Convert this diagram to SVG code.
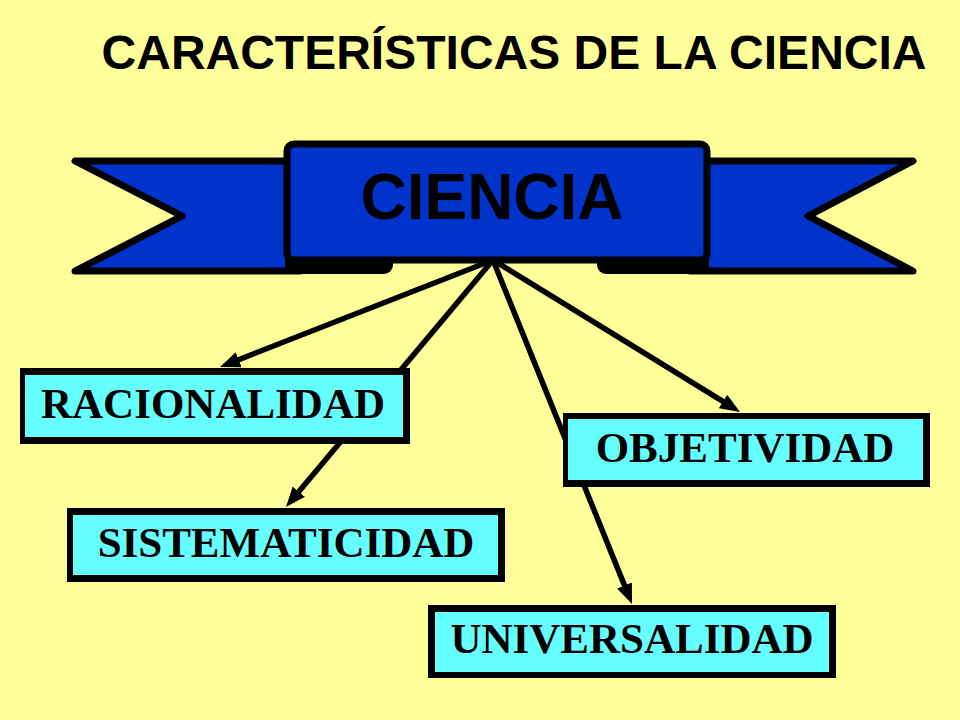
<svg xmlns="http://www.w3.org/2000/svg" width="960" height="720" viewBox="0 0 960 720">
<defs>
<style>
.title{font-family:"Liberation Sans",Arial,sans-serif;font-weight:bold;font-size:48px;fill:#000}
.ban{fill:#0033cc;stroke:#000;stroke-width:7;stroke-linejoin:round}
.bantext{font-family:"Liberation Sans",Arial,sans-serif;font-weight:bold;font-size:64px;fill:#000}
.outer{fill:#000}
.inner{fill:#66ffff}
.lbl{font-family:"Liberation Serif","Times New Roman",serif;font-weight:bold;font-size:43px;fill:#000}
.con{stroke:#000;stroke-width:5.5;fill:none;marker-end:url(#ah)}
</style>
<marker id="ah" markerUnits="userSpaceOnUse" markerWidth="20" markerHeight="16" refX="8" refY="8" orient="auto">
<path d="M0,0 L20,8 L0,16 Z" fill="#000"/>
</marker>
</defs>
<rect width="960" height="720" fill="#ffff99"/>
<text class="title" x="514" y="69" text-anchor="middle">CARACTERÍSTICAS DE LA CIENCIA</text>

<g id="connectors">
<line class="con" x1="493" y1="260" x2="231.2" y2="362.6"/>
<line class="con" x1="493" y1="260" x2="293.7" y2="497.8"/>
<line class="con" x1="493" y1="260" x2="729.8" y2="405.7"/>
<line class="con" x1="493" y1="260" x2="627.5" y2="592.9"/>
</g>

<g id="ciencia">
<polygon class="ban" points="75,161 300,161 300,271 75,271 182,216"/>
<polygon class="ban" points="913,161 690,161 690,271 913,271 808,216"/>
<rect x="285" y="249" width="108" height="25" rx="9" fill="#000"/>
<rect x="597" y="249" width="112" height="25" rx="9" fill="#000"/>
<rect class="ban" x="287" y="144" width="420" height="116" rx="7"/>
<text class="bantext" x="492" y="219" text-anchor="middle">CIENCIA</text>
</g>

<g id="racionalidad">
<rect class="outer" x="20" y="368" width="390" height="76"/>
<rect class="inner" x="25" y="375" width="378" height="62"/>
<text class="lbl" x="213" y="418" text-anchor="middle">RACIONALIDAD</text>
</g>

<g id="sistematicidad">
<rect class="outer" x="67" y="508" width="438" height="74"/>
<rect class="inner" x="73" y="515" width="425" height="60"/>
<text class="lbl" x="286" y="557" text-anchor="middle">SISTEMATICIDAD</text>
</g>

<g id="objetividad">
<rect class="outer" x="563" y="413" width="367" height="74"/>
<rect class="inner" x="568" y="419" width="355" height="61"/>
<text class="lbl" x="745" y="462" text-anchor="middle">OBJETIVIDAD</text>
</g>

<g id="universalidad">
<rect class="outer" x="428" y="605" width="408" height="73"/>
<rect class="inner" x="435" y="612" width="394" height="60"/>
<text class="lbl" x="632" y="653" text-anchor="middle">UNIVERSALIDAD</text>
</g>
</svg>
